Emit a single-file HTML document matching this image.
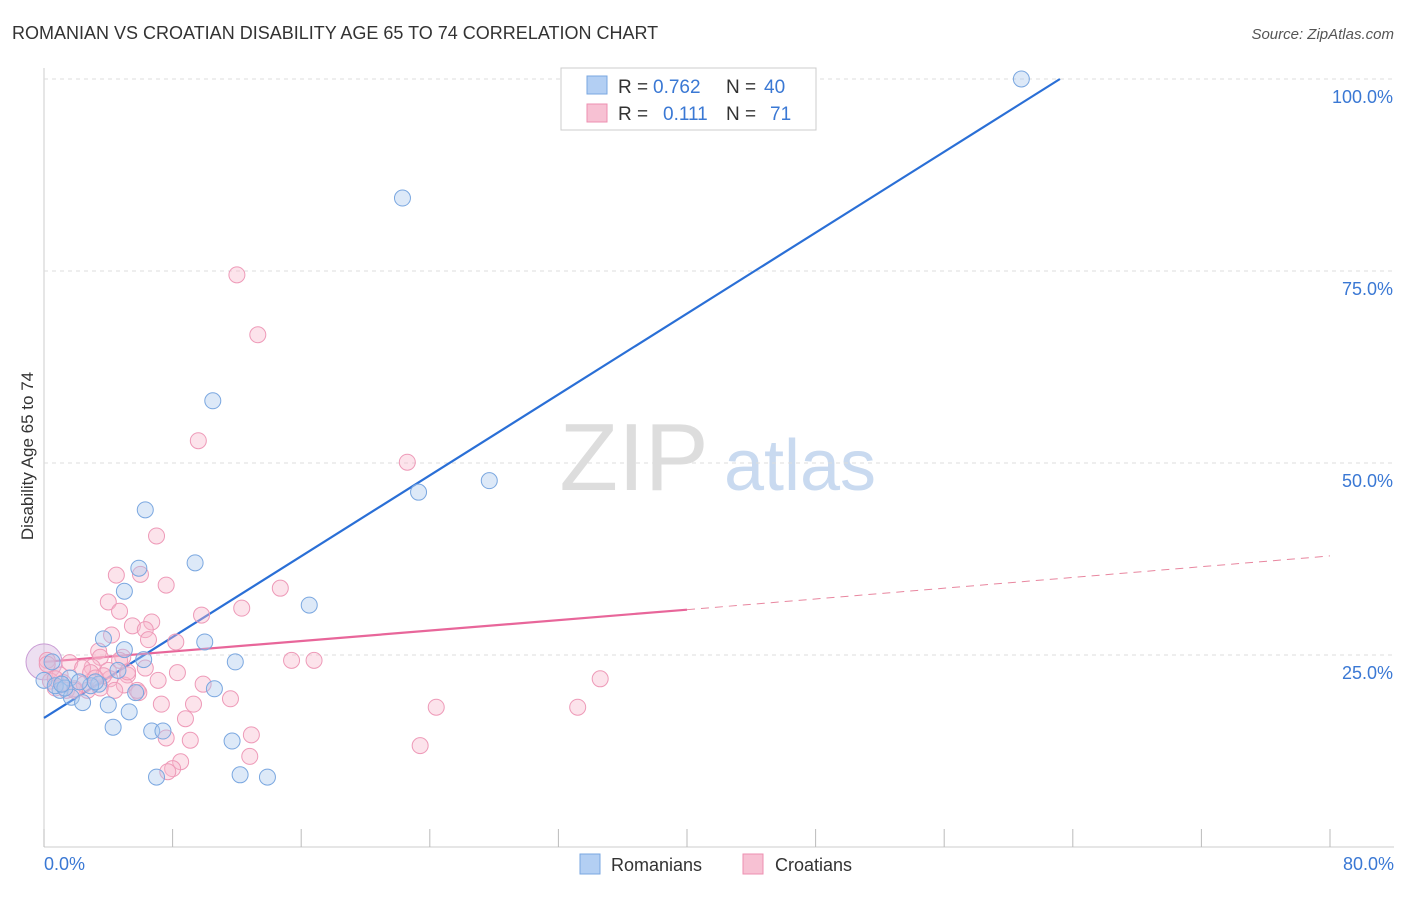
<!DOCTYPE html>
<html><head><meta charset="utf-8"><style>
body{margin:0;background:#fff;font-family:"Liberation Sans",sans-serif}
svg text{font-family:"Liberation Sans",sans-serif}
</style></head><body>
<svg id="c" width="1406" height="892" viewBox="0 0 1406 892">
<text x="12" y="39" font-size="18" fill="#333">ROMANIAN VS CROATIAN DISABILITY AGE 65 TO 74 CORRELATION CHART</text>
<text x="1394" y="39" font-size="15" fill="#555" font-style="italic" text-anchor="end">Source: ZipAtlas.com</text>
<text x="33" y="456" font-size="17" fill="#333" text-anchor="middle" transform="rotate(-90 33 456)">Disability Age 65 to 74</text>
<g><text x="634" y="490" font-size="96" fill="#ddd" font-family="Liberation Serif" text-anchor="middle">ZIP</text><text x="800" y="490" font-size="72" fill="#c9daf0" text-anchor="middle">atlas</text></g>
<g id="grid"></g><g id="lines"></g><g id="pts"></g>
<g>
<rect x="561" y="68" width="255" height="62" fill="#fff" stroke="#ccc"/>
<rect x="587" y="76" width="20" height="18" fill="#b3cff3" stroke="#7aa7e0"/>
<rect x="587" y="104" width="20" height="18" fill="#f7c1d3" stroke="#ee8fb0"/>
<text x="618" y="93" font-size="19" fill="#333">R =</text>
<text x="653" y="93" font-size="19" fill="#3a78d4">0.762</text>
<text x="726" y="93" font-size="19" fill="#333">N =</text>
<text x="764" y="93" font-size="19" fill="#3a78d4">40</text>
<text x="618" y="120" font-size="19" fill="#333">R =</text>
<text x="663" y="120" font-size="19" fill="#3a78d4">0.111</text>
<text x="726" y="120" font-size="19" fill="#333">N =</text>
<text x="770" y="120" font-size="19" fill="#3a78d4">71</text>
</g>
<g>
<rect x="580" y="854" width="20" height="20" fill="#b3cff3" stroke="#7aa7e0"/>
<text x="611" y="871" font-size="18" fill="#333">Romanians</text>
<rect x="743" y="854" width="20" height="20" fill="#f7c1d3" stroke="#ee8fb0"/>
<text x="775" y="871" font-size="18" fill="#333">Croatians</text>
</g>
</svg>
<script>
const xTicks=[0,8,16,24,32,40,48,56,64,72,80];
const yTicks=[25,50,75,100];
const yTickLabels=["25.0%","50.0%","75.0%","100.0%"];
const xEndLabels=["0.0%","80.0%"];
const blueX=[60.8,22.3,10.5,23.3,27.7,6.3,9.4,5.9,5.0,16.5,3.7,10.0,5.0,6.2,11.9,0.5,4.6,1.6,3.4,10.6,2.9,1.0,5.7,1.7,2.4,4.0,5.3,4.3,6.7,7.4,11.7,7.0,12.2,13.9,0.0,0.7,1.3,2.2,3.2,1.1];
const blueY=[100,84.5,58.1,46.2,47.7,43.9,37.0,36.3,33.3,31.5,27.1,26.7,25.7,24.4,24.1,24.1,23.0,22.0,21.2,20.6,21.0,20.4,20.1,19.5,18.8,18.5,17.6,15.6,15.1,15.1,13.8,9.1,9.4,9.1,21.7,21.0,20.7,21.5,21.5,21.2];
const pinkX=[12.0,13.3,9.6,22.6,7.0,4.5,6.0,7.6,4.0,14.7,12.3,9.8,4.7,6.7,4.2,5.5,6.3,6.5,8.2,3.4,4.9,3.5,3.0,4.0,5.2,15.4,16.8,8.3,34.6,1.6,2.4,1.0,0.4,7.1,5.0,9.9,11.6,5.9,2.7,1.9,4.1,9.3,7.3,24.4,33.2,8.8,7.6,9.1,12.9,23.4,12.8,8.5,8.0,7.7,0.2,0.7,1.4,5.8,3.5,2.5,4.7,5.2,3.7,4.4,6.3,0.7,1.2,1.9,2.9,3.2,0.2];
const pinkY=[74.5,66.7,52.9,50.1,40.5,35.4,35.5,34.1,31.9,33.7,31.1,30.2,30.7,29.3,27.6,28.8,28.3,27.0,26.7,25.5,24.7,24.7,23.4,23.0,22.4,24.3,24.3,22.7,21.9,24.0,23.3,22.4,21.6,21.7,21.1,21.2,19.3,20.1,20.4,20.6,21.9,18.6,18.6,18.2,18.2,16.7,14.2,13.9,14.6,13.2,11.8,11.1,10.2,9.8,24.3,20.7,20.4,20.4,20.7,21.2,24.3,22.8,22.3,20.4,23.3,21.9,21.4,20.4,22.7,22.0,23.8];
const blueLine=[[0,16.8],[63.2,100]];
const pinkLine=[[0,24.1],[40,30.9]];
const pinkDash=[[40,30.9],[80,37.9]];

const NS="http://www.w3.org/2000/svg";
const X=v=>44+v*(1330-44)/80;
const Y=v=>847-v*7.68;
function mk(tag,attrs,parent){const e=document.createElementNS(NS,tag);for(const k in attrs)e.setAttribute(k,attrs[k]);parent.appendChild(e);return e;}
const grid=document.getElementById('grid'),lines=document.getElementById('lines'),pts=document.getElementById('pts');
let ax=mk('line',{x1:44,y1:68,x2:44,y2:847,stroke:'#ccc'},grid);


let bx=mk('line',{x1:44,y1:847,x2:1394,y2:847,stroke:'#ccc'},grid);


yTicks.forEach((t,i)=>{
 let g=mk('line',{x1:44,x2:1394,y1:Y(t),y2:Y(t),stroke:'#ddd','stroke-dasharray':'4,4'},grid);
 
 
 let tx=mk('text',{x:1393,y:Y(t)+24,'font-size':18,fill:'#3a78d4','text-anchor':'end'},grid);
 tx.textContent=yTickLabels[i];
 
 
});
xTicks.forEach(t=>{
 let l=mk('line',{x1:X(t),x2:X(t),y1:829,y2:847,stroke:'#bbb'},grid);
 
 
});
[[0,'start',44],[80,'end',1394]].forEach((a,i)=>{
 let tx=mk('text',{x:a[2],y:870,'font-size':18,fill:'#3a78d4','text-anchor':a[1]},grid);
 tx.textContent=xEndLabels[i];
 
 
});
function drawPts(xs,ys,fill,stroke,name){
 xs.forEach((x,i)=>{
  let c=mk('circle',{cx:X(x),cy:Y(ys[i]),r:8,fill:fill,'fill-opacity':0.4,stroke:stroke,'stroke-width':1},pts);
  
  
 });
}
let big=mk('circle',{cx:X(0),cy:Y(24.1),r:18,fill:'#d8b8e0','fill-opacity':0.45,stroke:'#c99bd4'},pts);


drawPts(pinkX,pinkY,'#f7b8cc','#ee9ab8','point-croatians');
drawPts(blueX,blueY,'#a9c7ee','#7aa7e0','point-romanians');
let bl=mk('line',{x1:X(blueLine[0][0]),y1:Y(blueLine[0][1]),x2:X(blueLine[1][0]),y2:Y(blueLine[1][1]),stroke:'#2a6fd6','stroke-width':2.2},lines);


let pl=mk('line',{x1:X(pinkLine[0][0]),y1:Y(pinkLine[0][1]),x2:X(pinkLine[1][0]),y2:Y(pinkLine[1][1]),stroke:'#e8669a','stroke-width':2.2},lines);


let pd=mk('line',{x1:X(pinkDash[0][0]),y1:Y(pinkDash[0][1]),x2:X(pinkDash[1][0]),y2:Y(pinkDash[1][1]),stroke:'#e8869f','stroke-width':1,'stroke-dasharray':'8,6'},lines);


</script>
</body></html>
